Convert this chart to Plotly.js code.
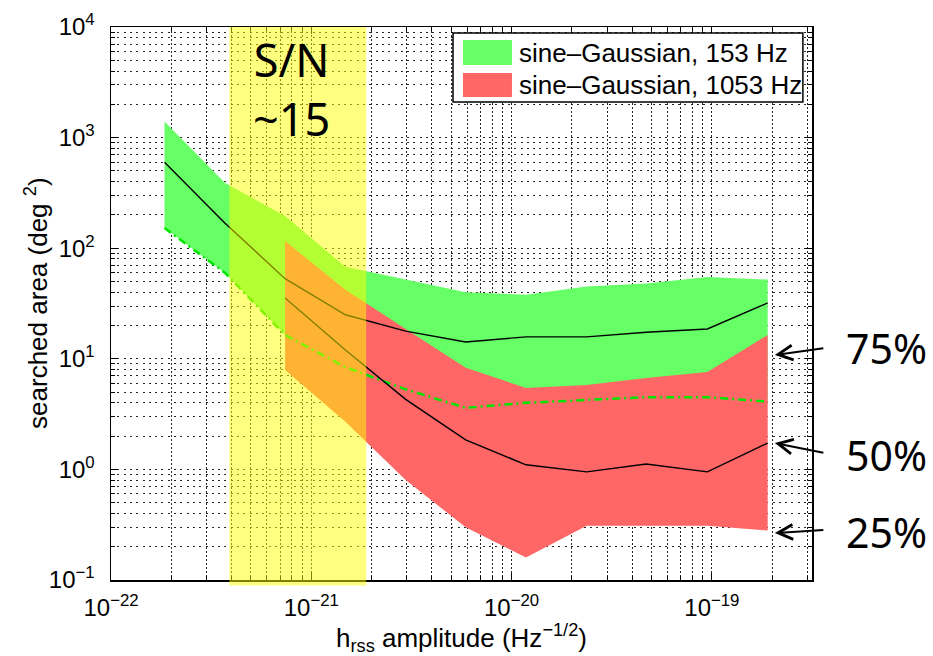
<!DOCTYPE html>
<html><head><meta charset="utf-8">
<script src="https://cdn.plot.ly/plotly-3.0.1.min.js"></script>
<style>html,body{margin:0;padding:0;background:#fff;} #chart{width:933px;height:656px;}</style>
</head><body><div id="chart"></div>
<script>
// h_rss amplitude (Hz^-1/2) sample points
const hrss = [1.85e-22, 3.7e-22, 7.4e-22, 1.48e-21, 2.96e-21, 5.9e-21, 1.18e-20, 2.37e-20, 4.7e-20, 9.5e-20, 1.9e-19];
// sine-Gaussian 153 Hz: searched area percentiles (deg^2)
const g153_p75 = [1400, 390, 195, 68, 52, 40, 38, 45, 48, 55, 52];
const g153_p50 = [600, 169, 53, 25, 17.8, 14.2, 15.8, 15.8, 17.4, 18.6, 32];
const g153_p25 = [152, 60, 16.4, 8.4, 5.3, 3.6, 4.0, 4.25, 4.5, 4.5, 4.1];
// sine-Gaussian 1053 Hz (starts at the third amplitude)
const hrss1053 = [7.4e-22, 1.48e-21, 2.96e-21, 5.9e-21, 1.18e-20, 2.37e-20, 4.7e-20, 9.5e-20, 1.9e-19];
const g1053_p75 = [116, 42, 18.6, 8.3, 5.45, 5.8, 6.7, 7.6, 16.4];
const g1053_p50 = [35.5, 12, 4.3, 1.85, 1.1, 0.95, 1.12, 0.95, 1.73];
const g1053_p25 = [7.9, 2.7, 0.80, 0.30, 0.16, 0.31, 0.31, 0.31, 0.28];
// S/N ~15 band
const snBand = [3.9e-22, 1.88e-21];
// axis ticks
const xMajor = [1e-22, 1e-21, 1e-20, 1e-19];
const xMajorText = ['10<sup>−22</sup>', '10<sup>−21</sup>', '10<sup>−20</sup>', '10<sup>−19</sup>'];
const yMajor = [0.1, 1, 10, 100, 1000, 10000];
const yMajorText = ['10<sup>−1</sup>', '10<sup>0</sup>', '10<sup>1</sup>', '10<sup>2</sup>', '10<sup>3</sup>', '10<sup>4</sup>'];
const legendLabels = ['sine–Gaussian, 153 Hz', 'sine–Gaussian, 1053 Hz'];
const pctLabels = ['75%', '50%', '25%'];

function minorTicks(e0, e1) {
  const out = [];
  for (let e = e0; e <= e1; e++) for (let m = 2; m <= 9; m++) out.push(m * Math.pow(10, e));
  return out;
}
const xMinor = minorTicks(-22, -19);
const yMinor = minorTicks(-1, 3);

const GREEN = '#66ff66', RED = '#ff6666';
const traces = [
  {x: hrss, y: g153_p75, mode: 'lines', line: {width: 0, color: GREEN}, hoverinfo: 'skip', showlegend: false},
  {x: hrss, y: g153_p25, mode: 'lines', line: {width: 0, color: GREEN}, fill: 'tonexty', fillcolor: GREEN, showlegend: false},
  {x: hrss1053, y: g1053_p75, mode: 'lines', line: {width: 0, color: RED}, showlegend: false},
  {x: hrss1053, y: g1053_p25, mode: 'lines', line: {width: 0, color: RED}, fill: 'tonexty', fillcolor: RED, showlegend: false},
  {x: hrss, y: g153_p25, mode: 'lines', line: {width: 2.5, color: '#00e600', dash: '8px,4px,2px,4px'}, showlegend: false},
  {x: hrss, y: g153_p50, mode: 'lines', line: {width: 1.4, color: '#000'}, showlegend: false},
  {x: hrss1053, y: g1053_p50, mode: 'lines', line: {width: 1.4, color: '#000'}, showlegend: false}
];

const gridCol = 'rgba(0,0,0,0.85)';
const tickFont = {family: 'Liberation Sans, Arial, sans-serif', size: 24, color: '#000'};
const titleFont = {family: 'Liberation Sans, Arial, sans-serif', size: 26, color: '#000'};

const layout = {
  width: 933, height: 656,
  margin: {l: 111, r: 121, t: 27, b: 76},
  paper_bgcolor: '#fff', plot_bgcolor: '#fff',
  showlegend: false,
  xaxis: {
    type: 'log', range: [-22, -18.5], tickmode: 'array', tickvals: xMajor, ticktext: xMajorText,
    ticks: 'inside', ticklen: 7, tickwidth: 1.2, tickcolor: '#000', mirror: 'ticks',
    showline: true, linecolor: '#000', linewidth: 1.5, zeroline: false,
    showgrid: true, gridcolor: gridCol, gridwidth: 1, griddash: '1.5px,2.5px',
    minor: {tickvals: xMinor, ticks: 'inside', ticklen: 4, tickcolor: '#000', tickwidth: 1,
            showgrid: true, gridcolor: gridCol, gridwidth: 1, griddash: '1.5px,2.5px'},
    tickfont: tickFont, ticklabelstandoff: 6,
    title: {text: 'h<sub>rss</sub> amplitude (Hz<sup>−1/2</sup>)', font: titleFont, standoff: 2}
  },
  yaxis: {
    type: 'log', range: [-1, 4], tickmode: 'array', tickvals: yMajor, ticktext: yMajorText,
    ticks: 'inside', ticklen: 7, tickwidth: 1.2, tickcolor: '#000', mirror: 'ticks',
    showline: true, linecolor: '#000', linewidth: 1.5, zeroline: false,
    showgrid: true, gridcolor: gridCol, gridwidth: 1, griddash: '2px,4.3px',
    minor: {tickvals: yMinor, ticks: 'inside', ticklen: 4, tickcolor: '#000', tickwidth: 1,
            showgrid: true, gridcolor: gridCol, gridwidth: 1, griddash: '2px,4.3px'},
    tickfont: tickFont, ticklabelstandoff: 10
  },
  shapes: [
    {type: 'rect', xref: 'x', yref: 'paper', x0: snBand[0], x1: snBand[1], y0: -0.01, y1: 1,
     fillcolor: 'rgba(255,255,0,0.5)', line: {width: 0}, layer: 'above'},
    {type: 'rect', xref: 'paper', yref: 'paper', x0: 0.4879, x1: 0.987, y0: 0.8644, y1: 0.989,
     fillcolor: '#fff', line: {color: '#000', width: 1.5}, layer: 'above'},
    {type: 'rect', xref: 'paper', yref: 'paper', x0: 0.5021, x1: 0.5720, y0: 0.9313, y1: 0.9765,
     fillcolor: GREEN, line: {width: 0}, layer: 'above'},
    {type: 'rect', xref: 'paper', yref: 'paper', x0: 0.5021, x1: 0.5720, y0: 0.8734, y1: 0.9168,
     fillcolor: RED, line: {width: 0}, layer: 'above'}
  ],
  annotations: [
    {xref: 'paper', yref: 'paper', x: -0.1056, y: 0.501, xanchor: 'center', yanchor: 'middle', showarrow: false,
     textangle: -90, text: 'searched area (deg <sup>2</sup>)', font: titleFont},
    {xref: 'paper', yref: 'paper', x: 0.5792, y: 0.9530, xanchor: 'left', yanchor: 'middle', showarrow: false,
     text: legendLabels[0], font: {family: 'Liberation Sans, Arial, sans-serif', size: 26, color: '#000'}},
    {xref: 'paper', yref: 'paper', x: 0.5792, y: 0.8957, xanchor: 'left', yanchor: 'middle', showarrow: false,
     text: legendLabels[1], font: {family: 'Liberation Sans, Arial, sans-serif', size: 26, color: '#000'}},
    {xref: 'paper', yref: 'paper', x: 0.2568, y: 0.887, xanchor: 'center', yanchor: 'middle', showarrow: false,
     text: 'S/N<br>~15', align: 'center', font: {family: 'Noto Sans, sans-serif', size: 45, color: '#000'}},
    {xref: 'paper', yref: 'paper', x: 1.1056, y: 0.4195, xanchor: 'center', yanchor: 'middle', showarrow: false,
     text: pctLabels[0], font: {family: 'Noto Sans, sans-serif', size: 41, color: '#000'}},
    {xref: 'paper', yref: 'paper', x: 1.1056, y: 0.2260, xanchor: 'center', yanchor: 'middle', showarrow: false,
     text: pctLabels[1], font: {family: 'Noto Sans, sans-serif', size: 41, color: '#000'}},
    {xref: 'paper', yref: 'paper', x: 1.1056, y: 0.0868, xanchor: 'center', yanchor: 'middle', showarrow: false,
     text: pctLabels[2], font: {family: 'Noto Sans, sans-serif', size: 41, color: '#000'}},
    {xref: 'paper', yref: 'paper', x: 0.947, y: 0.4069, text: '', showarrow: true, axref: 'pixel', ayref: 'pixel',
     ax: 50, ay: -7, arrowhead: 5, arrowsize: 1.45, arrowwidth: 2, arrowcolor: '#000', standoff: 0},
    {xref: 'paper', yref: 'paper', x: 0.947, y: 0.2477, text: '', showarrow: true, axref: 'pixel', ayref: 'pixel',
     ax: 50, ay: 10, arrowhead: 5, arrowsize: 1.45, arrowwidth: 2, arrowcolor: '#000', standoff: 0},
    {xref: 'paper', yref: 'paper', x: 0.947, y: 0.0850, text: '', showarrow: true, axref: 'pixel', ayref: 'pixel',
     ax: 50, ay: -3, arrowhead: 5, arrowsize: 1.45, arrowwidth: 2, arrowcolor: '#000', standoff: 0}
  ]
};

Plotly.newPlot('chart', traces, layout, {displayModeBar: false, staticPlot: true});
</script>
</body></html>
